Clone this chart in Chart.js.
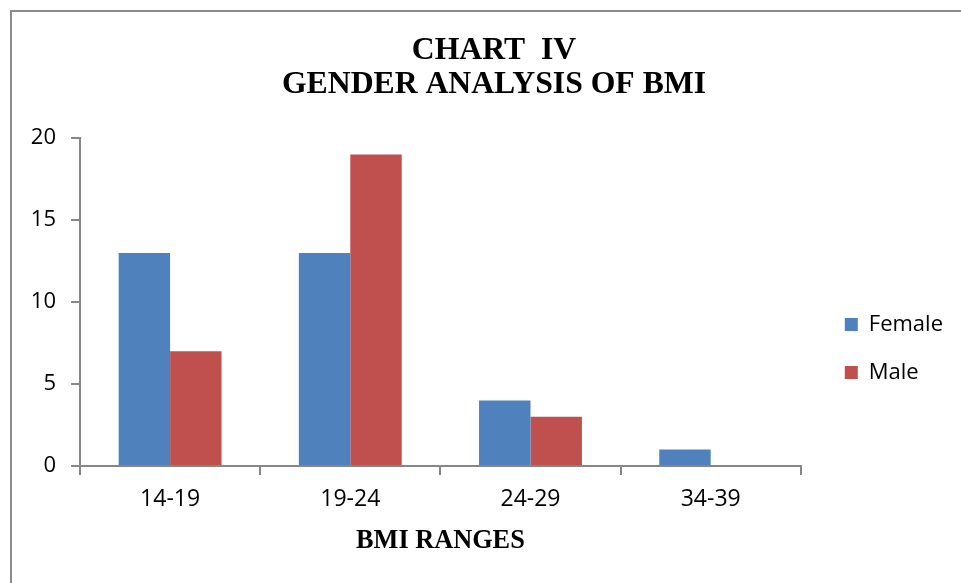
<!DOCTYPE html>
<html>
<head>
<meta charset="utf-8">
<script src="https://cdn.jsdelivr.net/npm/chart.js@4/dist/chart.umd.min.js"></script>
<style>
  html, body { margin: 0; padding: 0; background: #fff; overflow: hidden; }
  #frame { position: absolute; left: 10px; top: 10px; width: 1200px; height: 1000px; border: 2px solid #8c8c8c; box-sizing: border-box; }
  #c { position: absolute; left: 0; top: 0; }
</style>
</head>
<body>
<div id="frame"></div>
<canvas id="c" width="961" height="583"></canvas>
<script>
const categories = ['14-19', '19-24', '24-29', '34-39'];
const femaleValues = [13, 13, 4, 1];
const maleValues = [7, 19, 3, 0];
const seriesNames = ['Female', 'Male'];
const titleLines = ['CHART  IV', 'GENDER ANALYSIS OF BMI'];
const xAxisTitle = 'BMI RANGES';
const yTicks = { min: 0, max: 20, step: 5 };

const tickFont = { family: "'Open Sans', sans-serif", size: 22 };
const xTickFont = { family: "'Open Sans', sans-serif", size: 23 };
const serifBold = (size, lh) => ({ family: "'Liberation Serif', 'Times New Roman', serif", size: size, weight: 'bold', lineHeight: lh });
const axisGray = '#868686';

const nudge = {
  id: 'nudge',
  afterLayout(chart) {
    const lg = chart.legend;
    if (lg) { lg.left += 18; lg.right += 18; lg.top += 57; lg.bottom += 57; }
    const t = chart.titleBlock;
    if (t) { const d = 494 - (t.left + t.right) / 2; t.left += d; t.right += d; }
  }
};

new Chart(document.getElementById('c'), {
  type: 'bar',
  data: {
    labels: categories,
    datasets: [
      { label: seriesNames[0], data: femaleValues, backgroundColor: '#4F81BD', borderWidth: 0 },
      { label: seriesNames[1], data: maleValues, backgroundColor: '#C0504D', borderWidth: 0 }
    ]
  },
  options: {
    responsive: false,
    animation: false,
    devicePixelRatio: 1,
    categoryPercentage: 0.571,
    barPercentage: 1,
    layout: { padding: { left: 27, right: 26, top: 0, bottom: 0 } },
    plugins: {
      title: {
        display: true,
        text: titleLines,
        color: '#000',
        font: serifBold(31.7, 1.06),
        padding: { top: 34, bottom: 37 }
      },
      legend: {
        position: 'right',
        labels: {
          color: '#000',
          font: tickFont,
          boxWidth: 13,
          boxHeight: 13,
          padding: 26
        }
      },
      tooltip: { enabled: false }
    },
    scales: {
      x: {
        grid: { drawOnChartArea: false, drawTicks: true, tickLength: 9, color: axisGray, lineWidth: 2 },
        border: { display: true, color: axisGray, width: 2 },
        ticks: { color: '#000', font: xTickFont, padding: 11, maxRotation: 0 },
        title: { display: true, text: xAxisTitle, color: '#000', font: serifBold(26.3, 1.2), padding: { top: 0, bottom: 26 } },
        afterFit(scale) { scale.height = 117; }
      },
      y: {
        min: yTicks.min,
        max: yTicks.max,
        grid: { drawOnChartArea: false, drawTicks: true, tickLength: 9, color: axisGray, lineWidth: 2 },
        border: { display: true, color: axisGray, width: 2 },
        ticks: { stepSize: yTicks.step, color: '#000', font: tickFont, padding: 15 },
        afterFit(scale) { scale.width = 53; }
      }
    }
  },
  plugins: [nudge]
});
</script>
</body>
</html>
